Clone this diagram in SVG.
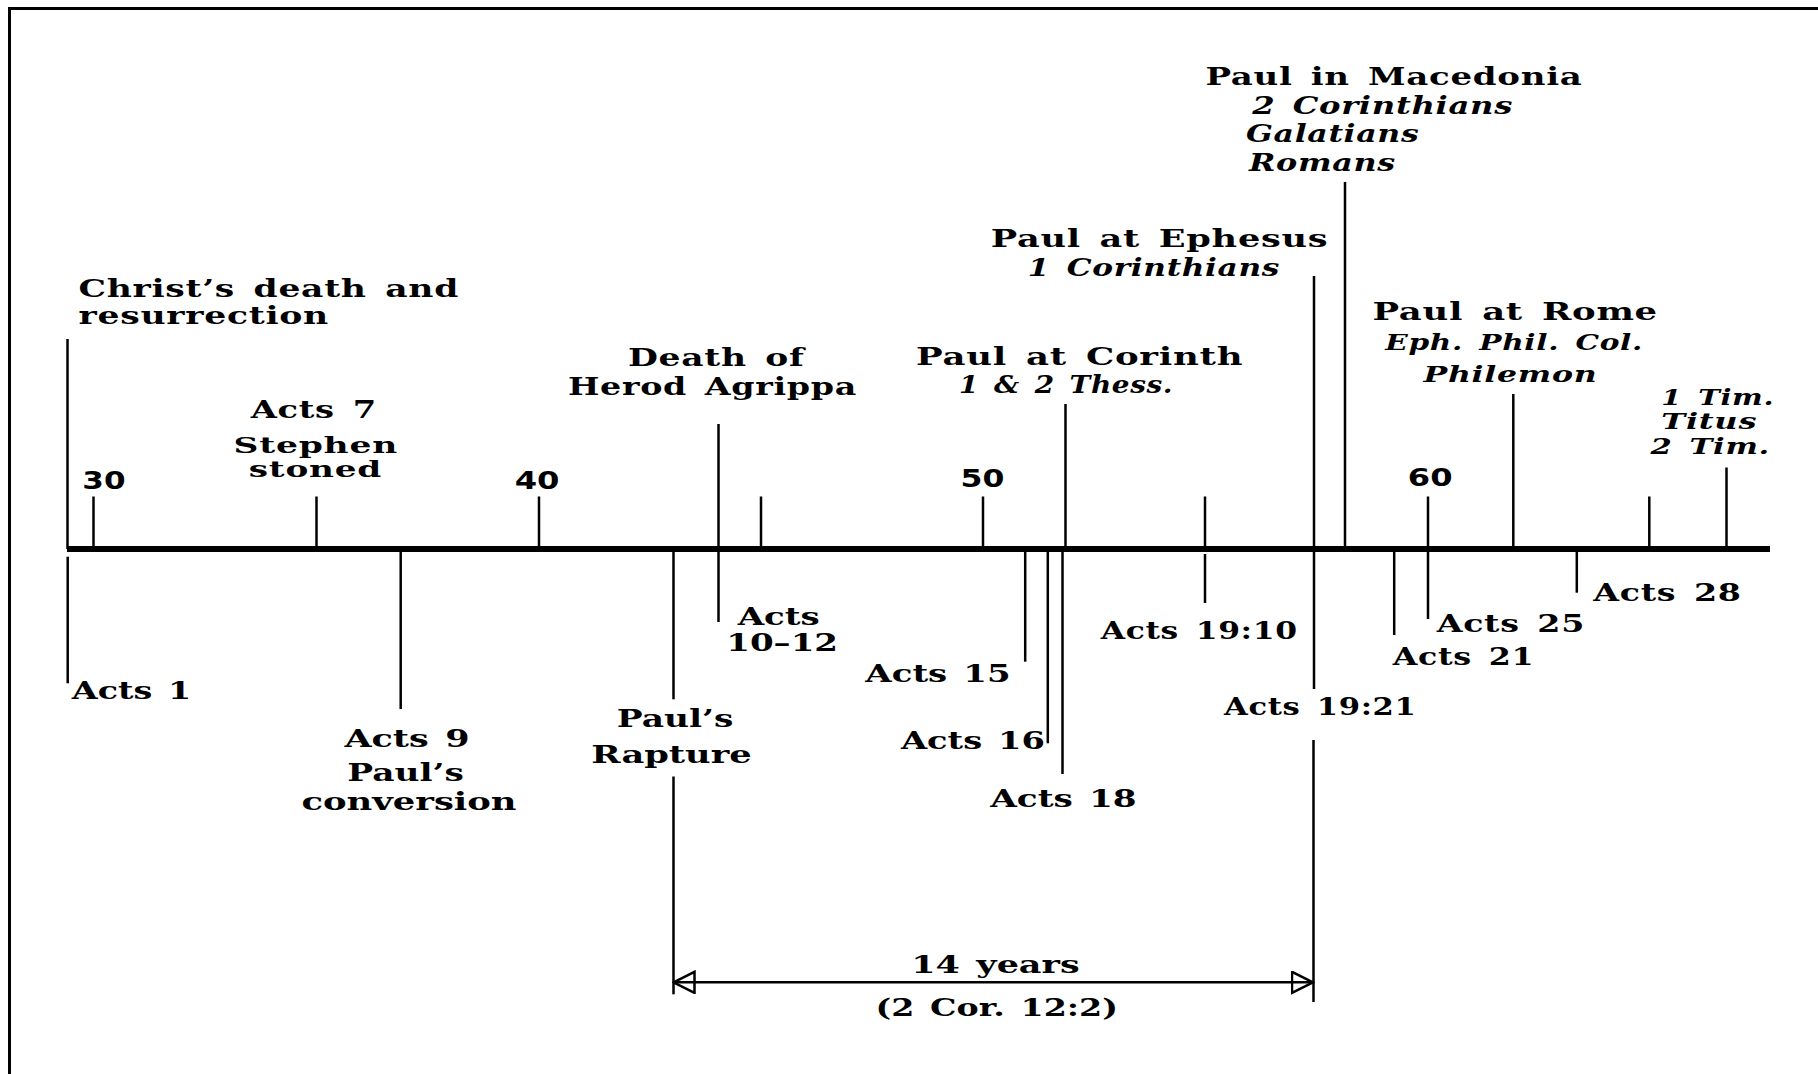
<svg xmlns="http://www.w3.org/2000/svg" width="1818" height="1074" viewBox="0 0 1818 1074">
<style>
.b{font-family:"DejaVu Serif","Liberation Serif",serif;font-weight:bold;font-size:24px;fill:#000;letter-spacing:0.5px;word-spacing:4px}
.i{font-family:"DejaVu Serif","Liberation Serif",serif;font-weight:bold;font-style:italic;font-size:24px;fill:#000;letter-spacing:0.5px;word-spacing:4px}
.t{font-size:22px}
.s{font-size:19px}
.n{font-family:"DejaVu Sans","Liberation Sans",sans-serif;font-weight:bold;font-size:25px;fill:#000}
.r{font-family:"DejaVu Serif","Liberation Serif",serif;font-weight:bold;font-size:24px;fill:#000;word-spacing:3px}
.l{stroke:#000;stroke-width:2.5;fill:none}
.ax{stroke:#000;stroke-width:6;fill:none}
.fr{stroke:#000;stroke-width:3;fill:none}
</style>
<defs>
<marker id="ah" markerUnits="userSpaceOnUse" markerWidth="24" markerHeight="24" viewBox="-1 -1 24 24" refX="21" refY="10.5" orient="auto-start-reverse">
<path d="M0,0 L21,10.5 L0,21 Z" fill="none" stroke="#000" stroke-width="2.5"/>
</marker>
</defs>
<rect width="1818" height="1074" fill="#fff"/>
<g id="frame">
<line class="fr" x1="9.5" y1="8.5" x2="1818" y2="8.5"/>
<line class="fr" x1="9.5" y1="7" x2="9.5" y2="1074"/>
</g>
<g id="connectors">
<line class="ax" x1="67" y1="549" x2="1770" y2="549"/>
<line class="l" x1="67.5" y1="339" x2="67.5" y2="549"/>
<line class="l" x1="93.5" y1="496.5" x2="93.5" y2="549"/>
<line class="l" x1="316.5" y1="496.5" x2="316.5" y2="549"/>
<line class="l" x1="539" y1="496.5" x2="539" y2="549"/>
<line class="l" x1="718.5" y1="424" x2="718.5" y2="622"/>
<line class="l" x1="761" y1="496.5" x2="761" y2="549"/>
<line class="l" x1="983" y1="496.5" x2="983" y2="549"/>
<line class="l" x1="1065.5" y1="404" x2="1065.5" y2="549"/>
<line class="l" x1="1062.5" y1="549" x2="1062.5" y2="774"/>
<line class="l" x1="1205" y1="496.5" x2="1205" y2="549"/>
<line class="l" x1="1205" y1="554" x2="1205" y2="603"/>
<line class="l" x1="1314" y1="276" x2="1314" y2="689"/>
<line class="l" x1="1313.5" y1="740" x2="1313.5" y2="1002"/>
<line class="l" x1="1345" y1="182" x2="1345" y2="549"/>
<line class="l" x1="1428" y1="496.5" x2="1428" y2="619"/>
<line class="l" x1="1513.3" y1="394" x2="1513.3" y2="549"/>
<line class="l" x1="1649.3" y1="496.5" x2="1649.3" y2="549"/>
<line class="l" x1="1726.5" y1="467.5" x2="1726.5" y2="549"/>
<line class="l" x1="67.7" y1="556.7" x2="67.7" y2="683.3"/>
<line class="l" x1="400.7" y1="549" x2="400.7" y2="709"/>
<line class="l" x1="673.5" y1="549" x2="673.5" y2="699.3"/>
<line class="l" x1="673.5" y1="776.5" x2="673.5" y2="994.3"/>
<line class="l" x1="1025.2" y1="549" x2="1025.2" y2="661.7"/>
<line class="l" x1="1047.8" y1="549" x2="1047.8" y2="743.3"/>
<line class="l" x1="1394.2" y1="549" x2="1394.2" y2="635"/>
<line class="l" x1="1576.8" y1="549" x2="1576.8" y2="592.7"/>
<line class="l" x1="673.5" y1="982.3" x2="1313" y2="982.3" marker-start="url(#ah)" marker-end="url(#ah)"/>
</g>
<g id="christ">
<text class="b" x="78.5" y="297" textLength="380.5" lengthAdjust="spacingAndGlyphs">Christ’s death and</text>
<text class="b" x="78.5" y="324" textLength="250.5" lengthAdjust="spacingAndGlyphs">resurrection</text>
</g>
<g id="stephen">
<text class="b" x="250.7" y="418" textLength="126.3" lengthAdjust="spacingAndGlyphs">Acts 7</text>
<text class="b t" x="233.5" y="453" textLength="164.5" lengthAdjust="spacingAndGlyphs">Stephen</text>
<text class="b t" x="248.8" y="477" textLength="133.2" lengthAdjust="spacingAndGlyphs">stoned</text>
</g>
<g id="herod">
<text class="b" x="628" y="366" textLength="176.5" lengthAdjust="spacingAndGlyphs">Death of</text>
<text class="b" x="568" y="395" textLength="289" lengthAdjust="spacingAndGlyphs">Herod Agrippa</text>
</g>
<g id="corinth">
<text class="b" x="916" y="365" textLength="327.3" lengthAdjust="spacingAndGlyphs">Paul at Corinth</text>
<text class="i" x="959" y="393" textLength="214" lengthAdjust="spacingAndGlyphs">1 &amp; 2 Thess.</text>
</g>
<g id="ephesus">
<text class="b" x="990.7" y="246.7" textLength="337.6" lengthAdjust="spacingAndGlyphs">Paul at Ephesus</text>
<text class="i" x="1027.7" y="275.7" textLength="252.3" lengthAdjust="spacingAndGlyphs">1 Corinthians</text>
</g>
<g id="macedonia">
<text class="b" x="1205.4" y="84.6" textLength="377.1" lengthAdjust="spacingAndGlyphs">Paul in Macedonia</text>
<text class="i" x="1252.3" y="113.9" textLength="260.7" lengthAdjust="spacingAndGlyphs">2 Corinthians</text>
<text class="i" x="1246" y="141.8" textLength="173.3" lengthAdjust="spacingAndGlyphs">Galatians</text>
<text class="i" x="1249" y="171.4" textLength="146.8" lengthAdjust="spacingAndGlyphs">Romans</text>
</g>
<g id="rome">
<text class="b" x="1372.4" y="319.6" textLength="285.5" lengthAdjust="spacingAndGlyphs">Paul at Rome</text>
<text class="i t" x="1385.2" y="350" textLength="257.8" lengthAdjust="spacingAndGlyphs">Eph. Phil. Col.</text>
<text class="i t" x="1423.5" y="381.8" textLength="173.9" lengthAdjust="spacingAndGlyphs">Philemon</text>
</g>
<g id="pastorals">
<text class="i t" x="1661.3" y="405.4" textLength="112.9" lengthAdjust="spacingAndGlyphs">1 Tim.</text>
<text class="i t" x="1661.3" y="428.6" textLength="95.9" lengthAdjust="spacingAndGlyphs">Titus</text>
<text class="i t" x="1650.6" y="454.3" textLength="119.4" lengthAdjust="spacingAndGlyphs">2 Tim.</text>
</g>
<g id="years">
<text class="n" x="82.3" y="489.3" textLength="43.2" lengthAdjust="spacingAndGlyphs">30</text>
<text class="n" x="514.7" y="488.7" textLength="44.8" lengthAdjust="spacingAndGlyphs">40</text>
<text class="n" x="960.5" y="487" textLength="43.8" lengthAdjust="spacingAndGlyphs">50</text>
<text class="n" x="1407.8" y="485.7" textLength="44.7" lengthAdjust="spacingAndGlyphs">60</text>
</g>
<g id="acts1">
<text class="r" x="71.8" y="699.3" textLength="119.4" lengthAdjust="spacingAndGlyphs">Acts 1</text>
</g>
<g id="acts9">
<text class="r" x="344.4" y="747.3" textLength="125.2" lengthAdjust="spacingAndGlyphs">Acts 9</text>
<text class="r" x="347.3" y="780.7" textLength="116.5" lengthAdjust="spacingAndGlyphs">Paul’s</text>
<text class="r" x="301.4" y="810" textLength="215.2" lengthAdjust="spacingAndGlyphs">conversion</text>
</g>
<g id="rapture">
<text class="r" x="616.7" y="726.5" textLength="116.7" lengthAdjust="spacingAndGlyphs">Paul’s</text>
<text class="r" x="591.3" y="763" textLength="160.4" lengthAdjust="spacingAndGlyphs">Rapture</text>
</g>
<g id="acts10">
<text class="r s" x="737.7" y="625" textLength="82.1" lengthAdjust="spacingAndGlyphs">Acts</text>
<text class="r s" x="726.2" y="651" textLength="111.9" lengthAdjust="spacingAndGlyphs">10–12</text>
</g>
<g id="acts15">
<text class="r" x="865.3" y="682.3" textLength="145.4" lengthAdjust="spacingAndGlyphs">Acts 15</text>
</g>
<g id="acts16">
<text class="r" x="901" y="749" textLength="143.9" lengthAdjust="spacingAndGlyphs">Acts 16</text>
</g>
<g id="acts18">
<text class="r" x="990.3" y="806.7" textLength="146.4" lengthAdjust="spacingAndGlyphs">Acts 18</text>
</g>
<g id="acts1910">
<text class="b" x="1100.7" y="639.3" textLength="197.1" lengthAdjust="spacingAndGlyphs">Acts 19:10</text>
</g>
<g id="acts1921">
<text class="b" x="1224" y="714.5" textLength="192.5" lengthAdjust="spacingAndGlyphs">Acts 19:21</text>
</g>
<g id="acts21">
<text class="b" x="1392.7" y="665" textLength="141.6" lengthAdjust="spacingAndGlyphs">Acts 21</text>
</g>
<g id="acts25">
<text class="b" x="1436.7" y="631.7" textLength="148.3" lengthAdjust="spacingAndGlyphs">Acts 25</text>
</g>
<g id="acts28">
<text class="b" x="1593.3" y="600.7" textLength="148.4" lengthAdjust="spacingAndGlyphs">Acts 28</text>
</g>
<g id="span">
<text class="r" x="911.2" y="973.3" textLength="168.4" lengthAdjust="spacingAndGlyphs">14 years</text>
<text class="r" x="875.5" y="1016" textLength="242.4" lengthAdjust="spacingAndGlyphs">(2 Cor. 12:2)</text>
</g>
</svg>
